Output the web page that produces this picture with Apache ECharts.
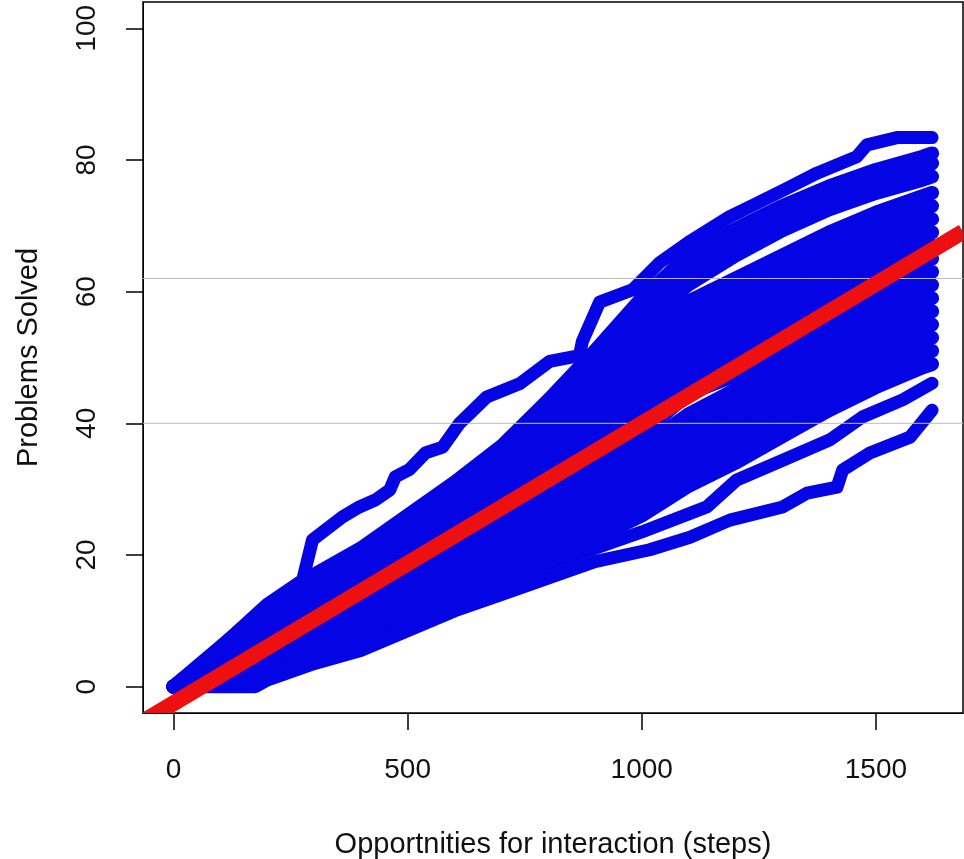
<!DOCTYPE html>
<html>
<head>
<meta charset="utf-8">
<script src="https://cdn.jsdelivr.net/npm/echarts@6/dist/echarts.min.js"></script>
<style>
  html, body { margin: 0; padding: 0; background: #fff; }
  #main { width: 964px; height: 859px; }
</style>
</head>
<body>
<div id="main"></div>
<script>
// tick labels
var xTicks = [0, 500, 1000, 1500];
var yTicks = [0, 20, 40, 60, 80, 100];

// reference lines (horizontal) and fitted line ends
var hLines = [62, 40];
var fitLine = [[-65, -5.3], [1686, 69.1]];

// shared step grid for most students
var stepGrid = [0, 100, 200, 300, 400, 500, 600, 700, 800, 900, 1000, 1100, 1200, 1300, 1400, 1500, 1600, 1620];

// problems solved at each grid step, one array per student
var s02 = [0, 6, 12, 17, 21, 26, 31, 36.5, 43.5, 51, 59, 65.5, 69.5, 73, 76, 78.5, 80.5, 81];
var s03 = [0, 5.7, 11.4, 16.2, 20.1, 25, 29.9, 35.2, 42, 49.2, 56.9, 63.3, 67.3, 70.8, 73.9, 76.4, 78.5, 79.5];
var s04 = [0, 5.3, 10.8, 15.4, 19.2, 23.9, 28.8, 33.9, 40.5, 47.4, 54.9, 61.1, 65.5, 69.3, 72.5, 75, 77, 77.5];
var s05 = [0, 5, 10.1, 14.6, 18.3, 22.9, 27.6, 32.7, 39, 45.7, 52.5, 58.5, 62, 65.5, 69, 72, 74.5, 75];
var s06 = [0, 4.6, 9.5, 13.8, 17.4, 21.9, 26.5, 31.4, 37.5, 43.9, 50.8, 56.8, 60.6, 64.3, 67.5, 70.3, 72.5, 73];
var s07 = [0, 4.3, 8.9, 12.9, 16.5, 20.8, 25.4, 30.1, 35.5, 42.5, 48.7, 54.6, 58.4, 62.1, 65.4, 68.2, 70.5, 71];
var s08 = [0, 3.9, 8.3, 12.1, 15.6, 19.8, 24.3, 28.8, 34.5, 40.3, 46.6, 52.4, 56.2, 59.9, 63.3, 66.1, 68.5, 69];
var s09 = [0, 3.6, 7.6, 11.3, 14.7, 18.8, 23.1, 27.5, 33, 38.5, 44.6, 50.2, 54, 57.7, 61.1, 64.1, 66.5, 67];
var s10 = [0, 3.3, 7, 10.5, 13.8, 17.8, 22, 26.3, 31.5, 36.8, 42.5, 48, 51.8, 55.5, 59, 62, 64.5, 65];
var s11 = [0, 2.9, 6.4, 9.7, 12.8, 16.7, 20.9, 25, 30, 35, 40.4, 45.8, 49.5, 53.3, 56.9, 59.9, 62.5, 63];
var s12 = [0, 2.6, 5.8, 8.9, 11.9, 15.7, 19.8, 23.7, 28.5, 33.2, 38.4, 44.5, 47.3, 51.1, 54.8, 57.9, 60.5, 61];
var s13 = [0, 2.2, 5.1, 8.1, 11, 14.7, 18.6, 22.4, 27, 31.4, 36.3, 41.4, 45.1, 48.9, 52.6, 55.8, 58.5, 59];
var s14 = [0, 1.9, 4.5, 7.3, 10.1, 13.6, 17.5, 21.1, 25.5, 29.6, 34.3, 39.3, 42.9, 46.8, 50.5, 53.8, 56.5, 57];
var s15 = [0, 1.5, 3.9, 6.4, 9.2, 12.6, 16.4, 19.8, 24, 27.8, 32.2, 37.1, 40.7, 44.6, 48.4, 51.7, 54.5, 55];
var s16 = [0, 1.2, 3.3, 5.6, 8.3, 11.6, 15.3, 18.6, 22.5, 26.1, 30.1, 34.9, 38.4, 42.4, 46.3, 49.6, 52.5, 53];
var s17 = [0, 0.8, 2.6, 4.8, 7.4, 10.5, 14.1, 17.3, 21, 24.3, 28.1, 32.7, 36.2, 40.2, 44.1, 47.6, 50.5, 51];
var s18 = [0, 0.5, 2, 4, 6.5, 9.5, 13, 16, 19.5, 22.5, 26, 30.5, 34, 38, 42, 45.5, 48.5, 49];

// students traced point by point: [steps, solved]
var topStudent = [[0, 0], [100, 6], [200, 12.5], [276, 16.2], [297, 22.3], [361, 25.8], [397, 27.3], [432, 28.4],
  [462, 29.9], [474, 31.9], [504, 33], [538, 35.5], [575, 36.4], [611, 40], [669, 44], [739, 46], [803, 49.4],
  [867, 50.3], [873, 52.4], [910, 58.4], [981, 60.3], [1038, 64.4], [1100, 67.5], [1188, 71.4], [1231, 72.9],
  [1316, 75.9], [1374, 78], [1459, 80.5], [1481, 82.3], [1545, 83.4], [1620, 83.4]];
var slowStudent = [[0, 0], [100, 0], [175, 0], [200, 1], [300, 3.5], [400, 5.5], [500, 8.5], [600, 11.5],
  [700, 14], [800, 16.5], [900, 19], [1017, 20.8], [1103, 22.7], [1188, 25.3], [1301, 27.3], [1353, 29.4],
  [1417, 30.3], [1429, 32.9], [1487, 35.5], [1573, 37.9], [1620, 42]];
var slowStudent2 = [[0, 0], [100, 1], [200, 2.5], [300, 4.5], [400, 6.5], [500, 9.5], [600, 12.5], [700, 15.5],
  [800, 18.5], [900, 21], [1000, 23.5], [1139, 27.3], [1203, 31.4], [1301, 34.4], [1402, 37.5], [1472, 41],
  [1558, 43.6], [1620, 46.1]];

var gridStudents = [s02, s03, s04, s05, s06, s07, s08, s09, s10, s11, s12, s13, s14, s15, s16, s17, s18];
var tracedStudents = [topStudent, slowStudent, slowStudent2];

var font = 'Liberation Sans, Arial, sans-serif';
var blue = '#0404e4';

var series = [];
gridStudents.forEach(function (ys) {
    series.push({
        type: 'line',
        data: stepGrid.map(function (x, i) { return [x, ys[i]]; }),
        showSymbol: false,
        silent: true,
        lineStyle: { color: blue, width: 14, cap: 'round', join: 'round' }
    });
});
tracedStudents.forEach(function (pts) {
    series.push({
        type: 'line',
        data: pts,
        showSymbol: false,
        silent: true,
        lineStyle: { color: blue, width: 13, cap: 'round', join: 'round' }
    });
});
hLines.forEach(function (h) {
    series.push({
        type: 'line',
        data: [[-65, h], [1686, h]],
        showSymbol: false,
        silent: true,
        z: 5,
        lineStyle: { color: '#bdbdbd', width: 1 }
    });
});
// fitted line, clipped exactly to the plot box
series.push({
    type: 'custom',
    silent: true,
    z: 10,
    data: [[fitLine[0][0], fitLine[0][1], fitLine[1][0], fitLine[1][1]]],
    encode: { x: [0, 2], y: [1, 3] },
    renderItem: function (params, api) {
        var p1 = api.coord([api.value(0), api.value(1)]);
        var p2 = api.coord([api.value(2), api.value(3)]);
        var cs = params.coordSys;
        return {
            type: 'line',
            shape: { x1: p1[0], y1: p1[1], x2: p2[0], y2: p2[1] },
            style: { stroke: '#ee1010', lineWidth: 16 },
            clipPath: { type: 'rect', shape: { x: cs.x, y: cs.y, width: cs.width, height: cs.height } }
        };
    }
});

var myChart = echarts.init(document.getElementById('main'));
myChart.setOption({
    animation: false,
    backgroundColor: '#fff',
    grid: { left: 143, right: 1, top: 2, bottom: 146, outerBoundsMode: 'none',
        show: true, borderColor: '#000', borderWidth: 1.5 },
    xAxis: {
        type: 'value', min: -65, max: 1686,
        name: 'Opportnities for interaction (steps)',
        nameLocation: 'middle', nameGap: 117,
        nameTextStyle: { fontSize: 29, color: '#111', fontFamily: font },
        axisLine: { onZero: false, lineStyle: { color: '#000' } },
        axisTick: { customValues: xTicks, length: 17, lineStyle: { color: '#000', width: 1.5 } },
        axisLabel: { customValues: xTicks, margin: 43, fontSize: 28, color: '#111', fontFamily: font,
            formatter: function (v) { return String(v); } },
        splitLine: { show: false }
    },
    yAxis: {
        type: 'value', min: -4, max: 104,
        name: 'Problems Solved',
        nameLocation: 'middle', nameGap: 100,
        nameTextStyle: { fontSize: 29, color: '#111', fontFamily: font },
        axisLine: { onZero: false, lineStyle: { color: '#000' } },
        axisTick: { customValues: yTicks, length: 17, lineStyle: { color: '#000', width: 1.5 } },
        axisLabel: { customValues: yTicks, rotate: 90, margin: 42, fontSize: 28, color: '#111', fontFamily: font,
            formatter: function (v) { return String(v); } },
        splitLine: { show: false }
    },
    series: series
});
</script>
</body>
</html>
